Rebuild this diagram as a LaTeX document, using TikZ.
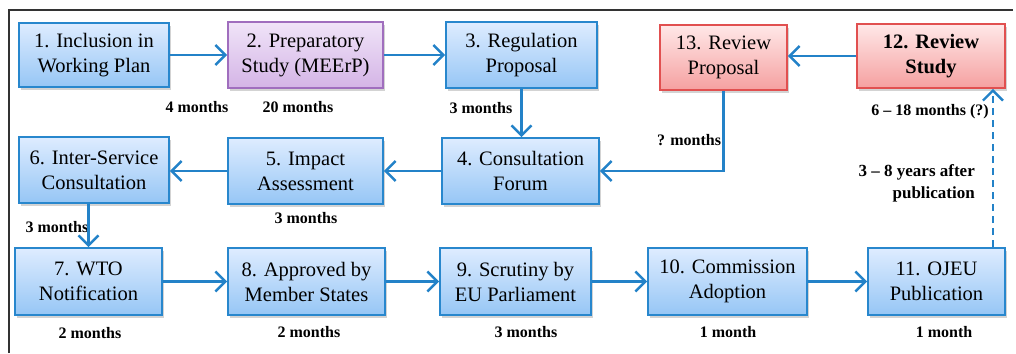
\documentclass[tikz,border=0pt]{standalone}
\usepackage{fontspec}
\setmainfont{Liberation Serif}
\usetikzlibrary{arrows.meta,shadows,calc}
\definecolor{bluebd}{RGB}{40,135,205}
\definecolor{bluetop}{RGB}{222,236,255}
\definecolor{bluebot}{RGB}{150,198,245}
\definecolor{purpbd}{RGB}{160,110,190}
\definecolor{purptop}{RGB}{240,228,248}
\definecolor{purpbot}{RGB}{212,180,230}
\definecolor{redbd}{RGB}{225,80,80}
\definecolor{redtop}{RGB}{255,232,232}
\definecolor{redbot}{RGB}{245,160,160}
\definecolor{arrowc}{RGB}{35,130,200}
\tikzset{
  box/.style={draw=bluebd, line width=1.8pt, top color=bluetop, bottom color=bluebot,
    align=center, inner sep=0pt, font=\fontsize{20.5}{25}\selectfont,
    drop shadow={shadow xshift=2pt, shadow yshift=-3pt, opacity=0.35}},
  pbox/.style={box, draw=purpbd, top color=purptop, bottom color=purpbot},
  rbox/.style={box, draw=redbd, top color=redtop, bottom color=redbot},
  lbl/.style={font=\fontsize{16}{18}\selectfont\bfseries, inner sep=0pt},
  conn/.style={draw=arrowc, line width=2.4pt, -{Straight Barb[length=10pt,width=20pt,line width=2.4pt]}},
}
\begin{document}
\begin{tikzpicture}[x=1pt,y=-1pt]
\useasboundingbox (0,0) rectangle (1016,353);
\draw[line width=1.5pt, black!80] (9,353) -- (9,10) -- (1013,10);
% row 1
\node[box, minimum width=150pt, minimum height=64pt] (b1) at (94,55) {1. Inclusion in\\Working Plan};
\node[pbox, minimum width=155pt, minimum height=66pt] (b2) at (305.5,55) {2. Preparatory\\Study (MEErP)};
\node[box, minimum width=151pt, minimum height=66pt] (b3) at (521.5,55) {3. Regulation\\Proposal};
\node[rbox, minimum width=127pt, minimum height=65pt] (b13) at (723.5,57.5) {13. Review\\Proposal};
\node[rbox, minimum width=148pt, minimum height=64pt, font=\fontsize{20.5}{25}\selectfont\bfseries] (b12) at (931,56) {12. Review\\Study};
% row 2
\node[box, minimum width=150pt, minimum height=66pt] (b6) at (94,170) {6. Inter-Service\\Consultation};
\node[box, minimum width=155pt, minimum height=66pt] (b5) at (305.5,171) {5. Impact\\Assessment};
\node[box, minimum width=157pt, minimum height=66pt] (b4) at (520.5,171) {4. Consultation\\Forum};
% row 3
\node[box, minimum width=147pt, minimum height=67pt] (b7) at (88.5,281.5) {7. WTO\\Notification};
\node[box, minimum width=157pt, minimum height=67pt] (b8) at (306.5,281.5) {8. Approved by\\Member States};
\node[box, minimum width=151pt, minimum height=67pt] (b9) at (515.5,281.5) {9. Scrutiny by\\EU Parliament};
\node[box, minimum width=159pt, minimum height=67pt] (b10) at (727.5,281.5) {10. Commission\\Adoption};
\node[box, minimum width=137pt, minimum height=67pt] (b11) at (936.5,281.5) {11. OJEU\\Publication};
% labels
\node[lbl] (l1) at (197,107) {4 months};
\node[lbl] (l2) at (298,107) {20 months};
\node[lbl] (l3) at (481,108) {3 months};
\node[lbl] (l12) at (930,112) {6 -- 18 months (?)};
\node[lbl] (l13) at (689,140) {? months};
\node[lbl, align=right, anchor=east, font=\fontsize{17}{22}\selectfont\bfseries] (l11) at (975,183) {3 -- 8 years after\\publication};
\node[lbl] (l6) at (57,227) {3 months};
\node[lbl] (l5) at (306,218) {3 months};
\node[lbl] (l7) at (90,333) {2 months};
\node[lbl] (l8) at (309,332) {2 months};
\node[lbl] (l9) at (526,332) {3 months};
\node[lbl] (l10) at (728,332) {1 month};
\node[lbl] (l11b) at (944,332) {1 month};
% connectors
\draw[conn] (b1.east) -- (b2.west);
\draw[conn] (b2.east) -- (b3.west);
\draw[conn] (b3.south) -- (b3.south |- b4.north);
\draw[conn] (b12.west) -- (b13.east |- b12.west);
\draw[conn] (b13.south) -- (b13.south |- b4.east) -- (b4.east);
\draw[conn] (b4.west) -- (b5.east);
\draw[conn] (b5.west) -- (b6.east |- b5.west);
\draw[conn] (b7.north |- b6.south) -- (b7.north);
\draw[conn] (b7.east) -- (b8.west);
\draw[conn] (b8.east) -- (b9.west);
\draw[conn] (b9.east) -- (b10.west);
\draw[conn] (b10.east) -- (b11.west);
\coordinate (d1) at ([xshift=-13pt]b11.north east);
\draw[conn, dash pattern=on 7pt off 5pt] (d1) -- (d1 |- b12.south);
\end{tikzpicture}
\end{document}
